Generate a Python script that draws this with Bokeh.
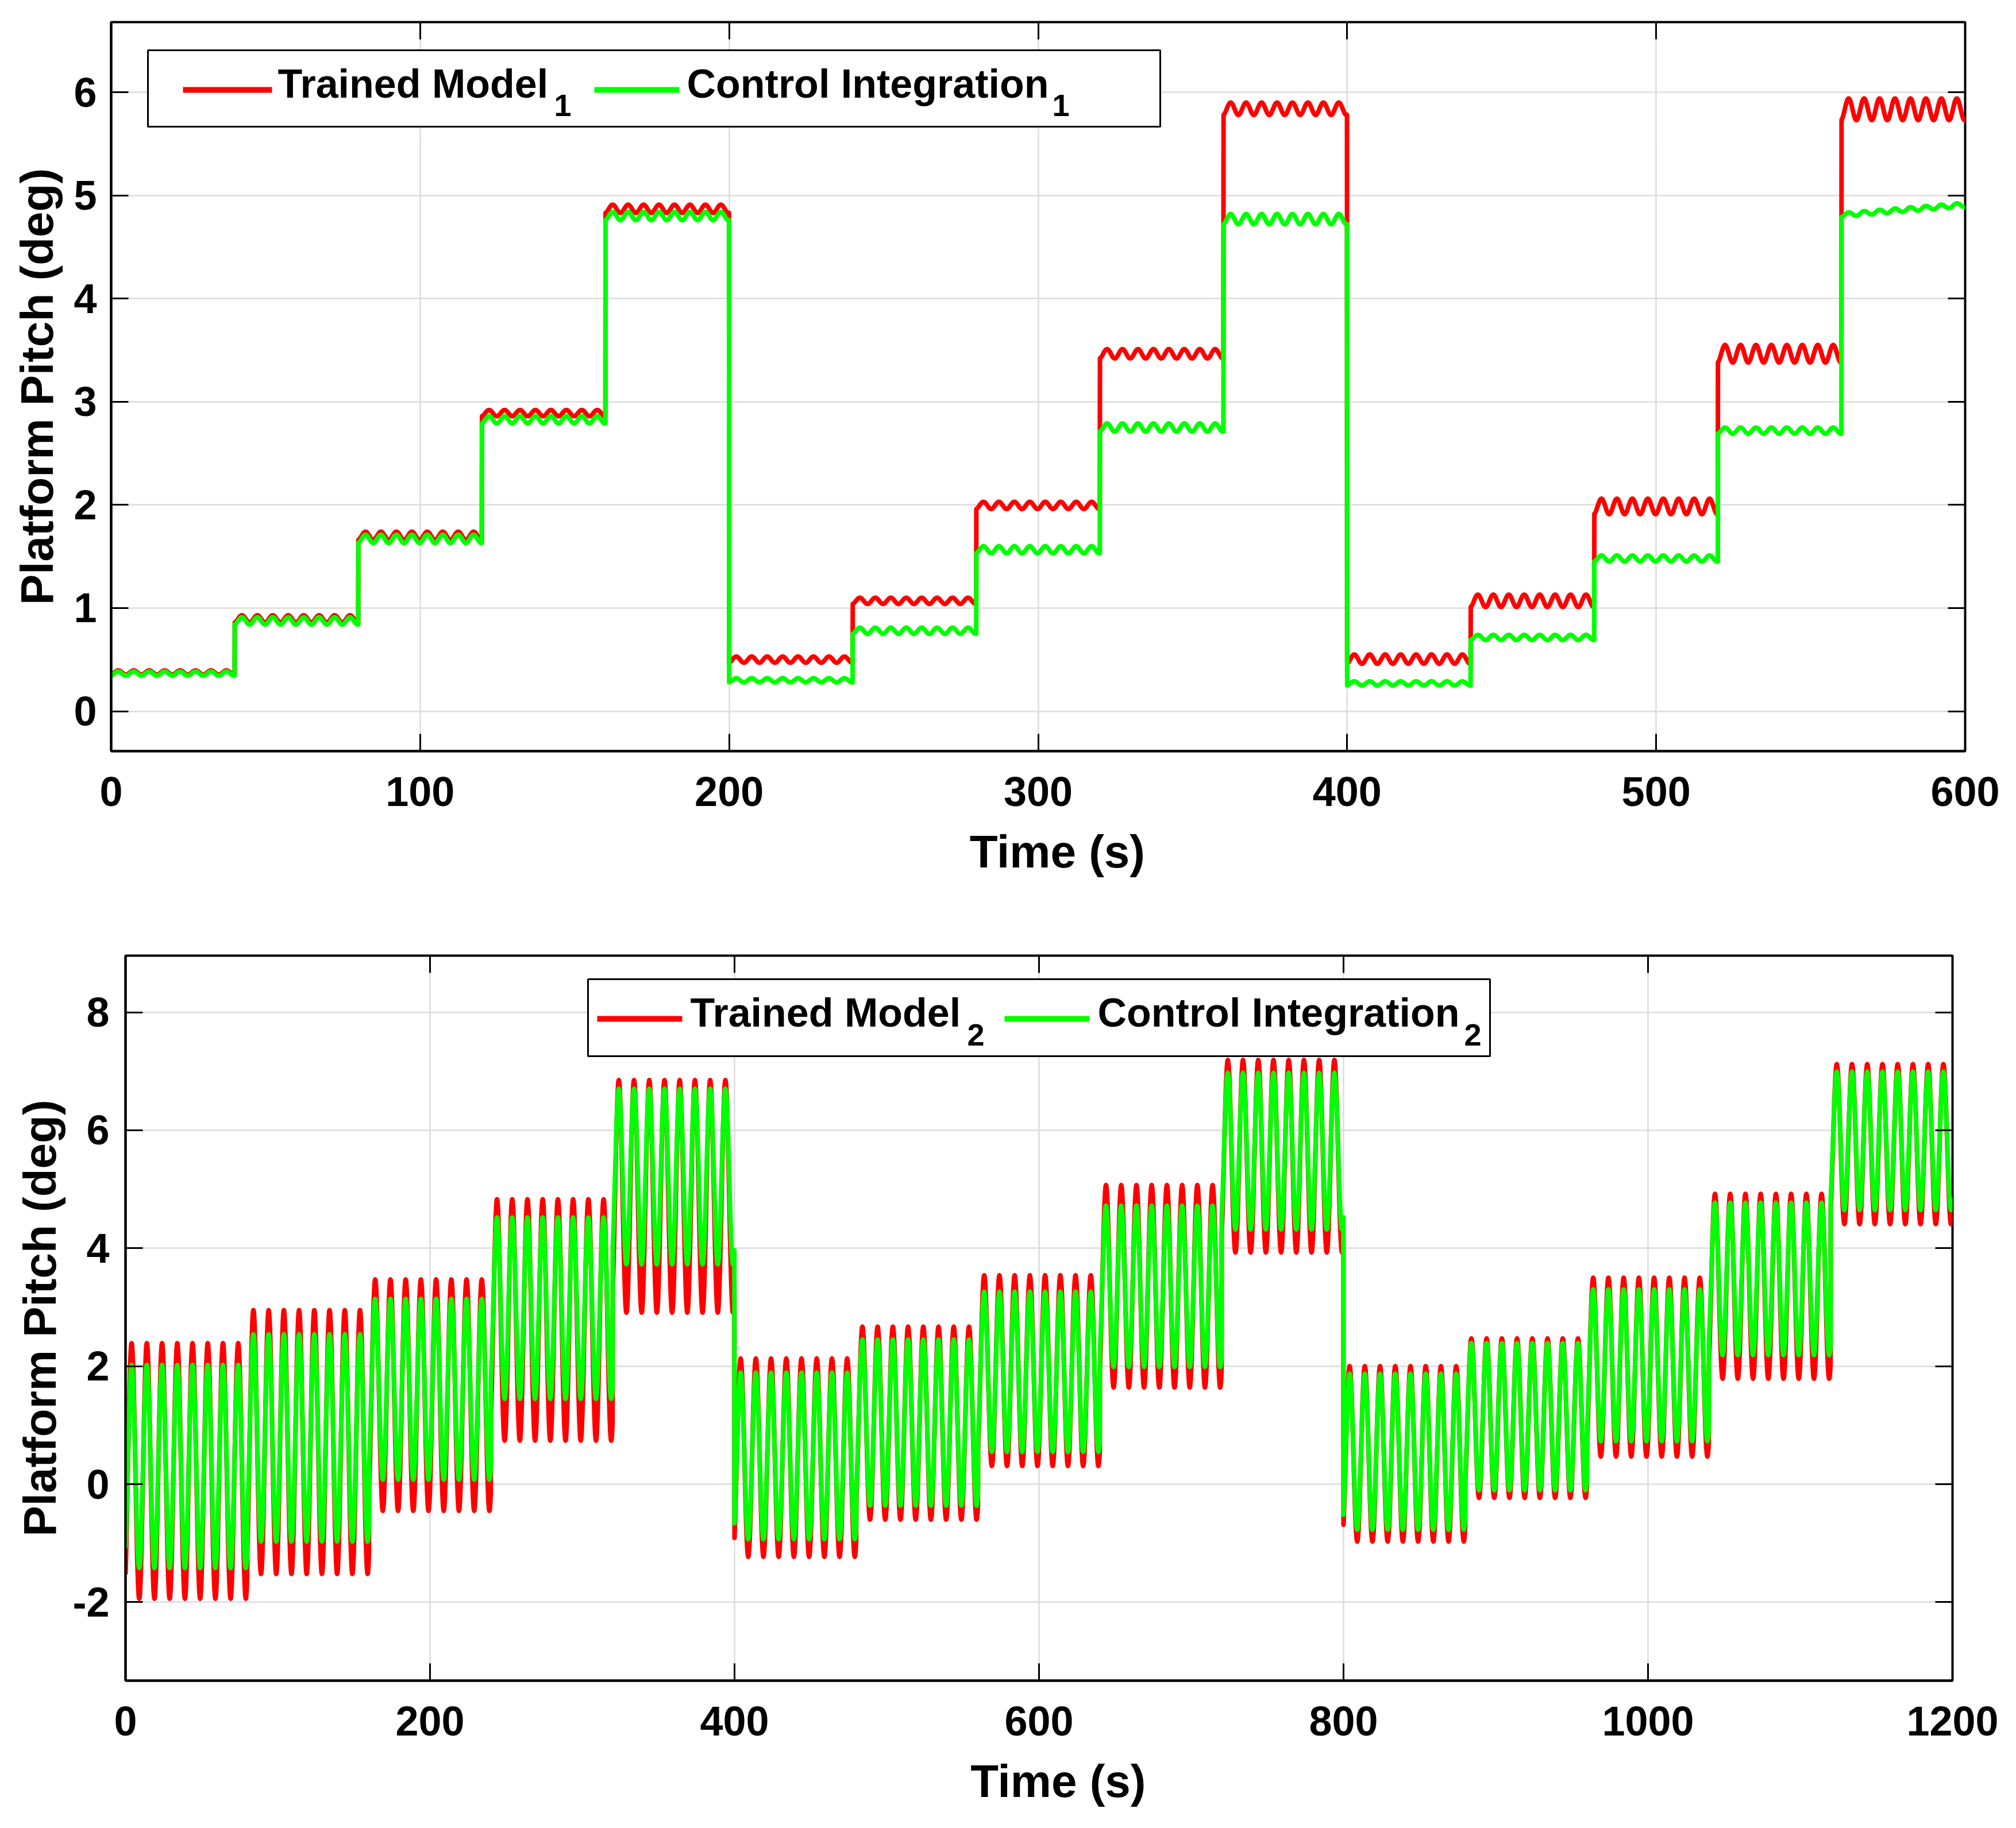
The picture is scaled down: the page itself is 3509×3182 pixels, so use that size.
import numpy as np
from bokeh.plotting import figure
from bokeh.models import Range1d, FixedTicker, LinearAxis, BoxAnnotation, Label, Spacer
from bokeh.layouts import column, row
from bokeh.embed import file_html
from bokeh.resources import INLINE

# ---------------- data ----------------
# Top panel: 15 steps of 40 s, ripple peak (hi) / trough (lo) of each step
top_seg_len = 40.0
top_period = 5.0
top_red_hi = [0.395, 0.93, 1.74, 2.92, 4.91, 0.53, 1.10, 2.03, 3.51, 5.90, 0.55, 1.13, 2.06, 3.55, 5.94]
top_red_lo = [0.355, 0.86, 1.66, 2.86, 4.83, 0.47, 1.04, 1.96, 3.42, 5.78, 0.46, 1.01, 1.91, 3.38, 5.73]
top_green_hi = [0.385, 0.91, 1.71, 2.86, 4.84, 0.32, 0.81, 1.60, 2.79, 4.82, 0.29, 0.74, 1.51, 2.75, 4.83]
top_green_lo = [0.345, 0.84, 1.63, 2.79, 4.76, 0.28, 0.75, 1.53, 2.71, 4.72, 0.25, 0.69, 1.45, 2.69, 4.79]
top_green_drift = [0, 0, 0, 0, 0, 0, 0, 0, 0, 0, 0, 0, 0, 0, 0.10]
top_xticks = [0, 100, 200, 300, 400, 500, 600]
top_yticks = [0, 1, 2, 3, 4, 5, 6]

# Bottom panel: 15 steps of 80 s, oscillation peak (hi) / trough (lo)
bot_seg_len = 80.0
bot_period = 10.0
bot_red_hi = [2.39, 2.95, 3.47, 4.83, 6.85, 2.13, 2.67, 3.54, 5.07, 7.19, 2.00, 2.47, 3.50, 4.92, 7.12]
bot_red_lo = [-1.94, -1.52, -0.45, 0.74, 2.91, -1.23, -0.60, 0.31, 1.64, 3.93, -0.97, -0.23, 0.47, 1.79, 4.41]
bot_green_hi = [2.02, 2.54, 3.14, 4.52, 6.70, 1.89, 2.45, 3.26, 4.72, 6.97, 1.87, 2.39, 3.30, 4.77, 6.99]
bot_green_lo = [-1.42, -0.97, 0.08, 1.45, 3.73, -0.93, -0.36, 0.55, 1.99, 4.32, -0.77, -0.10, 0.73, 2.19, 4.65]
bot_xticks = [0, 200, 400, 600, 800, 1000, 1200]
bot_yticks = [-2, 0, 2, 4, 6, 8]

series_labels = ["Trained Model", "Control Integration"]
sub_top = "1"
sub_bot = "2"

RED = "#ff0000"
GREEN = "#00ff00"
FONT = "Liberation Sans"


def build(t, seg_len, hi, lo, period, phase, drift=None):
    hi = np.asarray(hi, dtype=float)
    lo = np.asarray(lo, dtype=float)
    idx = np.minimum((t // seg_len).astype(int), len(hi) - 1)
    tl = t - idx * seg_len
    mid = (hi + lo) / 2.0
    amp = (hi - lo) / 2.0
    y = mid[idx] + amp[idx] * np.sin(2 * np.pi * (tl - phase) / period)
    if drift is not None:
        y = y + np.asarray(drift, dtype=float)[idx] * tl / seg_len
    return y


t_top = np.arange(0, 600.0001, 0.05)
t_bot = np.arange(0, 1200.0001, 0.1)
y_top_red = build(t_top, top_seg_len, top_red_hi, top_red_lo, top_period, 1.05)
y_top_green = build(t_top, top_seg_len, top_green_hi, top_green_lo, top_period, 1.05, top_green_drift)
y_bot_red = build(t_bot, bot_seg_len, bot_red_hi, bot_red_lo, bot_period, 1.5)
y_bot_green = build(t_bot, bot_seg_len, bot_green_hi, bot_green_lo, bot_period, 1.5)


def make_fig(xr, yr, xt, yt, fw, fh, bl, br, bt, bb, ystand, ylab_stand):
    p = figure(output_backend="svg", toolbar_location=None,
               frame_width=fw, frame_height=fh,
               min_border_left=bl, min_border_right=br,
               min_border_top=bt, min_border_bottom=bb,
               x_range=Range1d(*xr), y_range=Range1d(*yr),
               background_fill_color="white", border_fill_color="white")
    p.outline_line_color = "black"
    p.outline_line_width = 4
    p.outline_line_alpha = 1
    p.xaxis.ticker = FixedTicker(ticks=xt)
    p.yaxis.ticker = FixedTicker(ticks=yt)
    p.yaxis.major_label_overrides = {v: str(v) for v in yt}
    for ax in (p.xaxis[0], p.yaxis[0]):
        ax.axis_line_color = "black"
        ax.axis_line_width = 4
        ax.major_tick_in = 30
        ax.major_tick_out = 0
        ax.major_tick_line_width = 3
        ax.major_tick_line_color = "black"
        ax.minor_tick_line_color = None
        ax.major_label_text_font = FONT
        ax.major_label_text_font_style = "bold"
        ax.major_label_text_font_size = "72px"
        ax.major_label_text_color = "black"
        ax.axis_label_text_font = FONT
        ax.axis_label_text_font_style = "bold"
        ax.axis_label_text_font_size = "80px"
        ax.axis_label_text_color = "black"
    # label sits slightly right of the frame centre in the original
    p.xaxis.axis_label = "\u00a0\u00a0\u00a0Time (s)"
    p.yaxis.axis_label = "Platform Pitch (deg)"
    p.xaxis.major_label_standoff = 45
    p.xaxis.axis_label_standoff = 32
    p.yaxis.major_label_standoff = ystand
    p.yaxis.axis_label_standoff = ylab_stand
    for g in (p.xgrid[0], p.ygrid[0]):
        g.grid_line_color = "#dcdcdc"
        g.grid_line_width = 2.5
    p.xgrid.ticker = FixedTicker(ticks=xt)
    p.ygrid.ticker = FixedTicker(ticks=yt)
    # mirrored inward ticks on top and right
    for loc, ticks in (("above", xt), ("right", yt)):
        a = LinearAxis(ticker=FixedTicker(ticks=ticks))
        a.axis_line_color = None
        a.major_tick_in = 30
        a.major_tick_out = 0
        a.major_tick_line_width = 3
        a.major_tick_line_color = "black"
        a.minor_tick_line_color = None
        a.major_label_text_font_size = "1px"
        a.major_label_text_color = None
        a.major_label_standoff = 0
        p.add_layout(a, loc)
    return p


def add_legend(p, fr, items):
    # fr: frame geometry (left, top, width, height) in page pixels
    fl, ft, fw, fh = fr
    x0, x1 = p.x_range.start, p.x_range.end
    y0, y1 = p.y_range.start, p.y_range.end

    def dx(px):
        return x0 + (px - fl) / fw * (x1 - x0)

    def dy(py):
        return y1 - (py - ft) / fh * (y1 - y0)

    box = items["box"]
    p.add_layout(BoxAnnotation(left=dx(box[0]), right=dx(box[2]), top=dy(box[1]), bottom=dy(box[3]),
                               fill_color="white", fill_alpha=1.0, line_color="black",
                               line_width=3, line_alpha=1.0))
    for (sx0, sx1, sy, col) in items["samples"]:
        p.add_layout(BoxAnnotation(left=dx(sx0), right=dx(sx1), top=dy(sy - 5), bottom=dy(sy + 5),
                                   fill_color=col, fill_alpha=1.0, line_color=None))
    for (tx, ty, txt, size) in items["texts"]:
        p.add_layout(Label(x=dx(tx), y=dy(ty), text=txt, text_font=FONT, text_font_style="bold",
                           text_font_size="%dpx" % size, text_color="black", text_align="left",
                           text_baseline="alphabetic"))


# ---------------- top figure ----------------
TOP_FRAME = (193, 38, 3227, 1269)
p1 = make_fig((0, 600), (-0.387, 6.68), top_xticks, top_yticks,
              3227, 1269, 193, 80, 38, 253, 25, 16)
p1.line(t_top, y_top_red, line_color=RED, line_width=8, line_join="round")
p1.line(t_top, y_top_green, line_color=GREEN, line_width=8, line_join="round")
add_legend(p1, TOP_FRAME, {
    "box": (257, 87, 2019, 220),
    "samples": [(318, 473, 156, RED), (1034, 1182, 156, GREEN)],
    "texts": [(483, 145, series_labels[0], 70), (964, 183, sub_top, 54),
              (1195, 145, series_labels[1], 70), (1831, 183, sub_top, 54)],
})

# ---------------- bottom figure ----------------
BOT_FRAME = (215, 1663, 3180, 1262)
p2 = make_fig((0, 1200), (-3.33, 8.96), bot_xticks, bot_yticks,
              3180, 1262, 193, 84, 103, 220, 28, 9)
p2.line(t_bot, y_bot_red, line_color=RED, line_width=8, line_join="round")
p2.line(t_bot, y_bot_green, line_color=GREEN, line_width=8, line_join="round")
add_legend(p2, BOT_FRAME, {
    "box": (1020, 1704, 2590, 1838),
    "samples": [(1036, 1184, 1773, RED), (1745, 1893, 1773, GREEN)],
    "texts": [(1198, 1762, series_labels[0], 70), (1680, 1801, sub_bot, 54),
              (1907, 1762, series_labels[1], 70), (2545, 1801, sub_bot, 54)],
})

layout = column(p1, row(Spacer(width=22, height=10), p2))
open("out.html", "w").write(file_html(layout, INLINE))
